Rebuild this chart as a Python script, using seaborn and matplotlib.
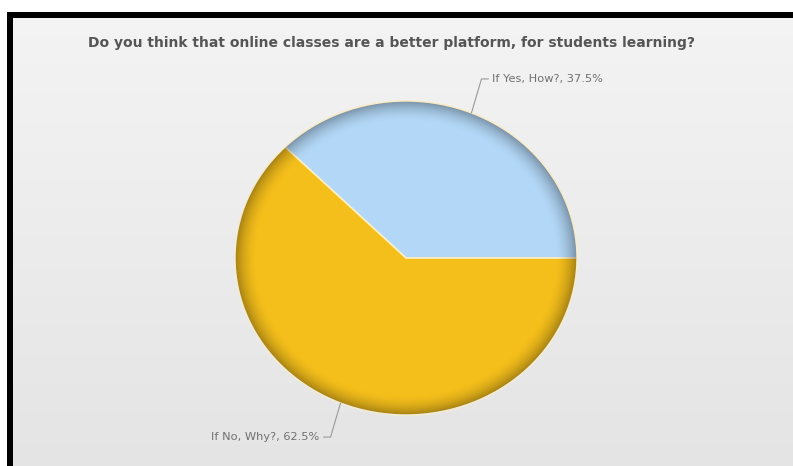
import numpy as np
import matplotlib
matplotlib.use("Agg")
import matplotlib.pyplot as plt
from matplotlib.patches import Circle, Rectangle
import seaborn as sns

# Survey answers and their shares (percent)
categories = ["If Yes, How?", "If No, Why?"]
shares = [37.5, 62.5]
slice_colors = ["#b3d8f7", "#f5bf1b"]
title_text = "Do you think that online classes are a better platform, for students learning?"

sns.set_theme(style="white")
plt.rcParams["font.family"] = ["DejaVu Sans"]
palette = sns.color_palette(slice_colors)

W, H = 793, 466
fig = plt.figure(figsize=(W / 100, H / 100), dpi=100, facecolor="white")

# ---- framed panel with a soft vertical gradient ----
bg = fig.add_axes([0, 0, 1, 1])
bg.set_xlim(0, W)
bg.set_ylim(H, 0)
bg.axis("off")
bg.add_patch(Rectangle((7, 12), W - 7, H - 12, facecolor="#000000", edgecolor="none", zorder=0))
grad = np.linspace(0, 1, 256)[:, None]
top_c = np.array([0.955, 0.955, 0.955])
bot_c = np.array([0.895, 0.895, 0.895])
img = top_c[None, None, :] * (1 - grad[..., None]) + bot_c[None, None, :] * grad[..., None]
bg.imshow(img, extent=(12.5, W, H, 18), aspect="auto", zorder=1, interpolation="bicubic")
bg.text(391, 43, title_text, ha="center", va="center", fontsize=10,
        fontweight="bold", color="#555555", zorder=2)

# ---- pie ----
cx, cy, rx, ry = 406, 258, 171, 157
ax = fig.add_axes([0, 0, 1, 1])
ax.patch.set_alpha(0)
wedges, _ = ax.pie(shares, colors=palette, startangle=0, counterclock=True,
                   radius=1, center=(0, 0),
                   wedgeprops=dict(edgecolor="#fbefc8", linewidth=1.2))
ax.set_aspect("auto")
ax.set_xlim(-cx / rx, (W - cx) / rx)
ax.set_ylim((cy - H) / ry, cy / ry)
ax.axis("off")

# darkened rim to give the pie a rounded look
n = 400
g = np.linspace(-1, 1, n)
xx, yy = np.meshgrid(g, g)
rr = np.sqrt(xx ** 2 + yy ** 2)
alpha = 0.30 * np.clip((rr - 0.87) / 0.125, 0, 1) ** 1.8
shade = np.zeros((n, n, 4))
shade[..., 3] = alpha
im = ax.imshow(shade, extent=(-1, 1, -1, 1), origin="lower", aspect="auto", zorder=3)
clip = Circle((0, 0), 1, transform=ax.transData)
im.set_clip_path(clip)
ax.add_patch(Circle((0, 0), 1.0, fill=False, edgecolor="#f6ecd0", linewidth=0.9, zorder=4))

# labels with leader lines
angles = np.cumsum([0] + shares)
for i, (cat, val) in enumerate(zip(categories, shares)):
    mid = np.deg2rad((angles[i] + angles[i + 1]) / 2 * 3.6)
    x0, y0 = np.cos(mid), np.sin(mid)
    side = 1 if x0 >= 0 else -1
    ey = y0 + np.sign(y0) * 34 / ry
    ex = x0 + side * 10 / rx
    tx = ex + side * 7 / rx
    ax.plot([x0, ex, tx], [y0, ey, ey], color="#999999", lw=0.8, zorder=5,
            solid_joinstyle="miter")
    ax.text(tx + side * 4 / rx, ey, f"{cat}, {val}%", ha="left" if side > 0 else "right",
            va="center", fontsize=8.2, color="#707070", zorder=5)

fig.savefig("out.png", dpi=100, facecolor="white")
